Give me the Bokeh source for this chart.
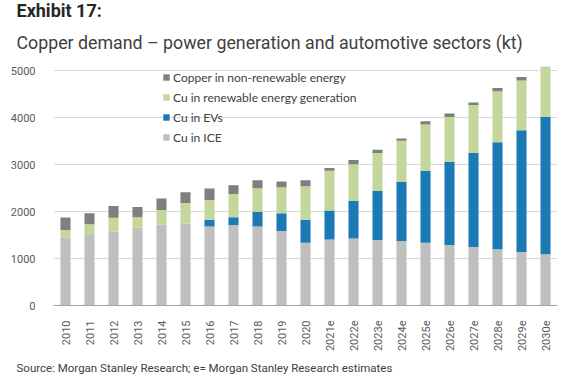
from bokeh.plotting import figure
from bokeh.models import Legend, LegendItem, Title, Range1d, FixedTicker, ColumnDataSource
from bokeh.embed import file_html
from bokeh.resources import INLINE
import math

years = ["2010", "2011", "2012", "2013", "2014", "2015", "2016", "2017", "2018", "2019", "2020",
         "2021e", "2022e", "2023e", "2024e", "2025e", "2026e", "2027e", "2028e", "2029e", "2030e"]
cu_ice = [1443, 1500, 1570, 1655, 1718, 1748, 1684, 1712, 1684, 1585, 1336,
          1408, 1429, 1394, 1372, 1336, 1288, 1245, 1196, 1139, 1090]
cu_evs = [0, 0, 0, 0, 0, 0, 140, 170, 310, 381, 488,
          615, 798, 1046, 1258, 1528, 1767, 2001, 2283, 2595, 2927]
cu_renewable = [163, 233, 297, 227, 318, 437, 425, 494, 503, 552, 715,
                849, 779, 806, 879, 991, 962, 1026, 1082, 1060, 1068]
cu_nonrenewable = [269, 233, 254, 218, 242, 227, 241, 184, 170, 121, 128,
                   56, 91, 72, 48, 70, 71, 49, 72, 72, 60]
y_ticks = [0, 1000, 2000, 3000, 4000, 5000]

series = ["ice", "evs", "ren", "nonren"]
labels = {"ice": "Cu in ICE", "evs": "Cu in EVs",
          "ren": "Cu in renewable energy generation",
          "nonren": "Copper in non-renewable energy"}
colors = ["#bfbfbf", "#1b7ab5", "#c4d79b", "#7f7f7f"]

src = ColumnDataSource(dict(years=years, ice=cu_ice, evs=cu_evs, ren=cu_renewable, nonren=cu_nonrenewable))

p = figure(x_range=years, y_range=Range1d(0, 5090), width=565, height=378,
           output_backend="svg", toolbar_location=None, title=None,
           min_border_left=53, min_border_right=8, min_border_top=66, min_border_bottom=72)
p.x_range.range_padding = 0
p.outline_line_color = None
p.background_fill_color = "white"
p.border_fill_color = "white"

renderers = p.vbar_stack(series, x="years", width=0.42, color=colors, line_color=None, source=src)

# axes
p.yaxis.ticker = FixedTicker(ticks=y_ticks)
p.yaxis.axis_line_color = None
p.yaxis.major_tick_line_color = None
p.yaxis.minor_tick_line_color = None
p.yaxis.major_label_text_font = "Roboto"
p.yaxis.major_label_text_font_size = "11px"
p.yaxis.major_label_text_color = "#595959"
p.yaxis.major_label_standoff = 12

p.xaxis.axis_line_color = "#a6a6a6"
p.xaxis.axis_line_width = 1
p.xaxis.major_tick_line_color = None
p.xaxis.minor_tick_line_color = None
p.xaxis.major_label_orientation = math.pi / 2
p.xaxis.major_label_text_font = "Roboto"
p.xaxis.major_label_text_font_size = "11px"
p.xaxis.major_label_text_color = "#595959"
p.xaxis.major_label_standoff = 9

p.xgrid.grid_line_color = None
p.ygrid.grid_line_color = "#d9d9d9"
p.ygrid.grid_line_width = 1

order = [3, 2, 1, 0]
items = [LegendItem(label=labels[series[i]], renderers=[renderers[i]]) for i in order]
legend = Legend(items=items, location=(109, 158), padding=0, margin=0, spacing=0,
                glyph_width=8, glyph_height=8, label_standoff=3, label_height=20,
                label_text_font="Lato", label_text_font_size="12px", label_text_color="#404040",
                background_fill_alpha=0, border_line_alpha=0)
p.add_layout(legend, "center")

sub = Title(text="Copper demand \u2013 power generation and automotive sectors (kt)",
            text_font="Roboto", text_font_size="17.8px", text_font_style="normal",
            text_color="#404040", align="left", offset=-37, standoff=27)
p.add_layout(sub, "above")
ttl = Title(text="Exhibit 17:", text_font="Roboto", text_font_size="18px",
            text_font_style="bold", text_color="#262626", align="left", offset=-37, standoff=-9)
p.add_layout(ttl, "above")
srcnote = Title(text="Source: Morgan Stanley Research; e= Morgan Stanley Research estimates",
                text_font="Roboto", text_font_size="11.5px", text_font_style="normal",
                text_color="#404040", align="left", offset=-37, standoff=8)
p.add_layout(srcnote, "below")

open("out.html", "w").write(file_html(p, INLINE))
